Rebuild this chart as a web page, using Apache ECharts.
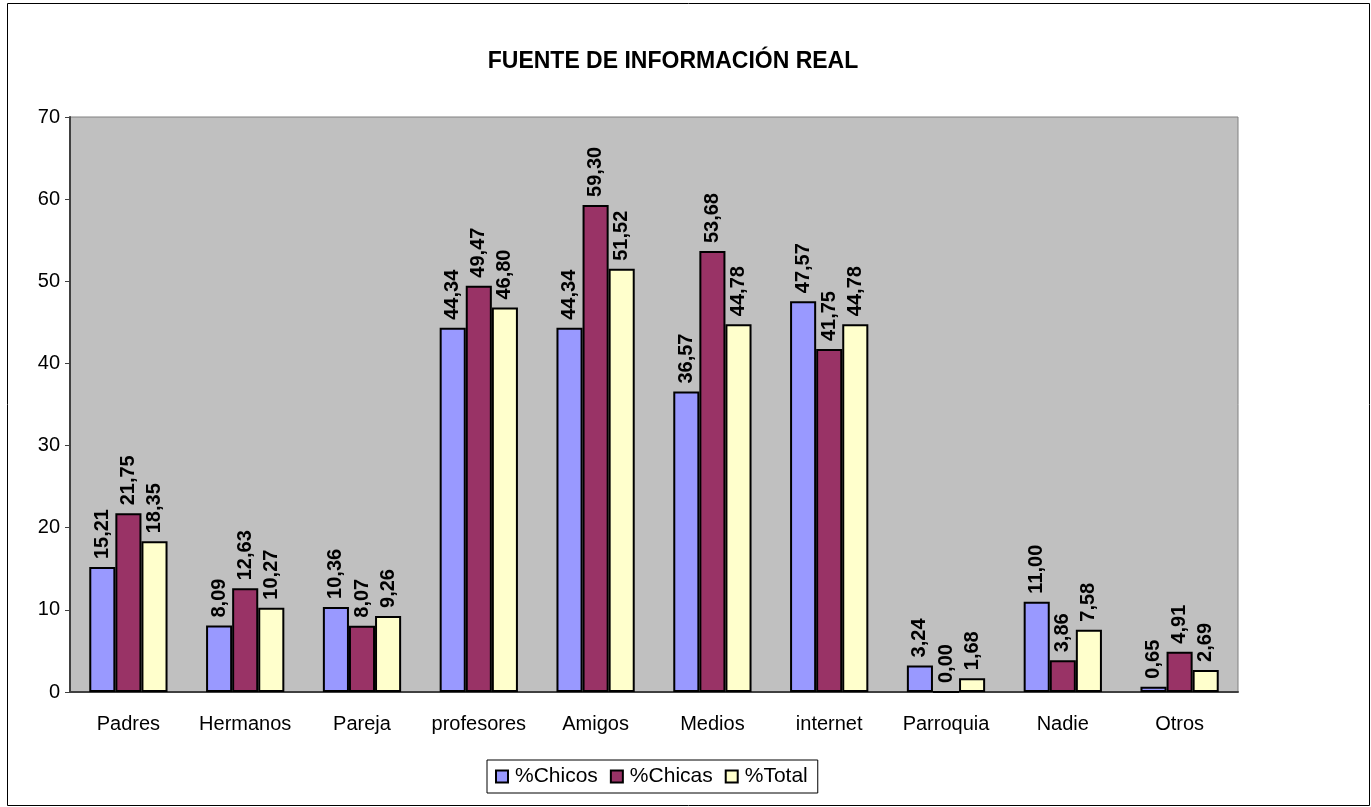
<!DOCTYPE html>
<html>
<head>
<meta charset="utf-8">
<script src="https://cdn.jsdelivr.net/npm/echarts@6/dist/echarts.min.js"></script>
<style>
  html, body { margin: 0; padding: 0; background: #fff; }
  #myChart { width: 1371px; height: 807px; }
</style>
</head>
<body>
<div id="myChart"></div>
<script>
const categories = ["Padres", "Hermanos", "Pareja", "profesores", "Amigos", "Medios", "internet", "Parroquia", "Nadie", "Otros"];
const chicos = [15.21, 8.09, 10.36, 44.34, 44.34, 36.57, 47.57, 3.24, 11.00, 0.65];
const chicas = [21.75, 12.63, 8.07, 49.47, 59.30, 53.68, 41.75, 0.00, 3.86, 4.91];
const total = [18.35, 10.27, 9.26, 46.80, 51.52, 44.78, 44.78, 1.68, 7.58, 2.69];
const yTicks = [0, 10, 20, 30, 40, 50, 60, 70];

const font = "Arial, 'Liberation Sans', sans-serif";

function barSeries(name, data, color) {
  return {
    name: name,
    type: "bar",
    data: data,
    barGap: "0%",
    barCategoryGap: "33%",
    itemStyle: { color: color, borderColor: "#000", borderWidth: 2 },
    label: {
      show: true,
      position: "top",
      rotate: 90,
      align: "left",
      verticalAlign: "middle",
      distance: 8,
      fontFamily: font,
      fontWeight: "bold",
      fontSize: 20,
      color: "#000",
      formatter: p => p.value.toFixed(2).replace(".", ",")
    }
  };
}

let myChart = echarts.init(document.getElementById("myChart"));
myChart.setOption({
  animation: false,
  backgroundColor: "#fff",
  textStyle: { fontFamily: font },
  title: {
    text: "FUENTE DE INFORMACIÓN REAL",
    left: 668,
    textAlign: "center",
    top: 45,
    textStyle: { fontFamily: font, fontWeight: "bold", fontSize: 23, color: "#000" }
  },
  graphic: [{
    type: "rect",
    shape: { x: 7.5, y: 3.5, width: 1362, height: 802 },
    style: { fill: "none", stroke: "#000", lineWidth: 1 },
    silent: true
  }],
  legend: {
    data: ["%Chicos", "%Chicas", "%Total"],
    left: 487,
    top: 760,
    padding: [6, 10, 6, 8],
    itemGap: 12,
    itemWidth: 12,
    itemHeight: 12,
    borderColor: "#000",
    borderWidth: 1,
    icon: "rect",
    itemStyle: { borderColor: "#000", borderWidth: 2 },
    textStyle: { fontFamily: font, fontSize: 21, color: "#000", padding: [0, 0, 0, 2] }
  },
  grid: {
    left: 70,
    right: 133,
    top: 117,
    bottom: 115,
    show: true,
    backgroundColor: "#C0C0C0",
    borderColor: "#808080",
    borderWidth: 1
  },
  xAxis: {
    type: "category",
    data: categories,
    axisLine: { lineStyle: { color: "#404040", width: 2 } },
    axisTick: { length: 6, lineStyle: { color: "#404040" } },
    axisLabel: { interval: 0, fontFamily: font, fontSize: 20, color: "#000", margin: 22 }
  },
  yAxis: {
    type: "value",
    min: yTicks[0],
    max: yTicks[yTicks.length - 1],
    interval: 10,
    axisLine: { show: true, lineStyle: { color: "#404040", width: 2 } },
    axisTick: { show: true, length: 5, lineStyle: { color: "#404040" } },
    splitLine: { show: false },
    axisLabel: { fontFamily: font, fontSize: 20, color: "#000", margin: 10 }
  },
  series: [
    barSeries("%Chicos", chicos, "#9999FF"),
    barSeries("%Chicas", chicas, "#993366"),
    barSeries("%Total", total, "#FFFFCC")
  ]
});
</script>
</body>
</html>
